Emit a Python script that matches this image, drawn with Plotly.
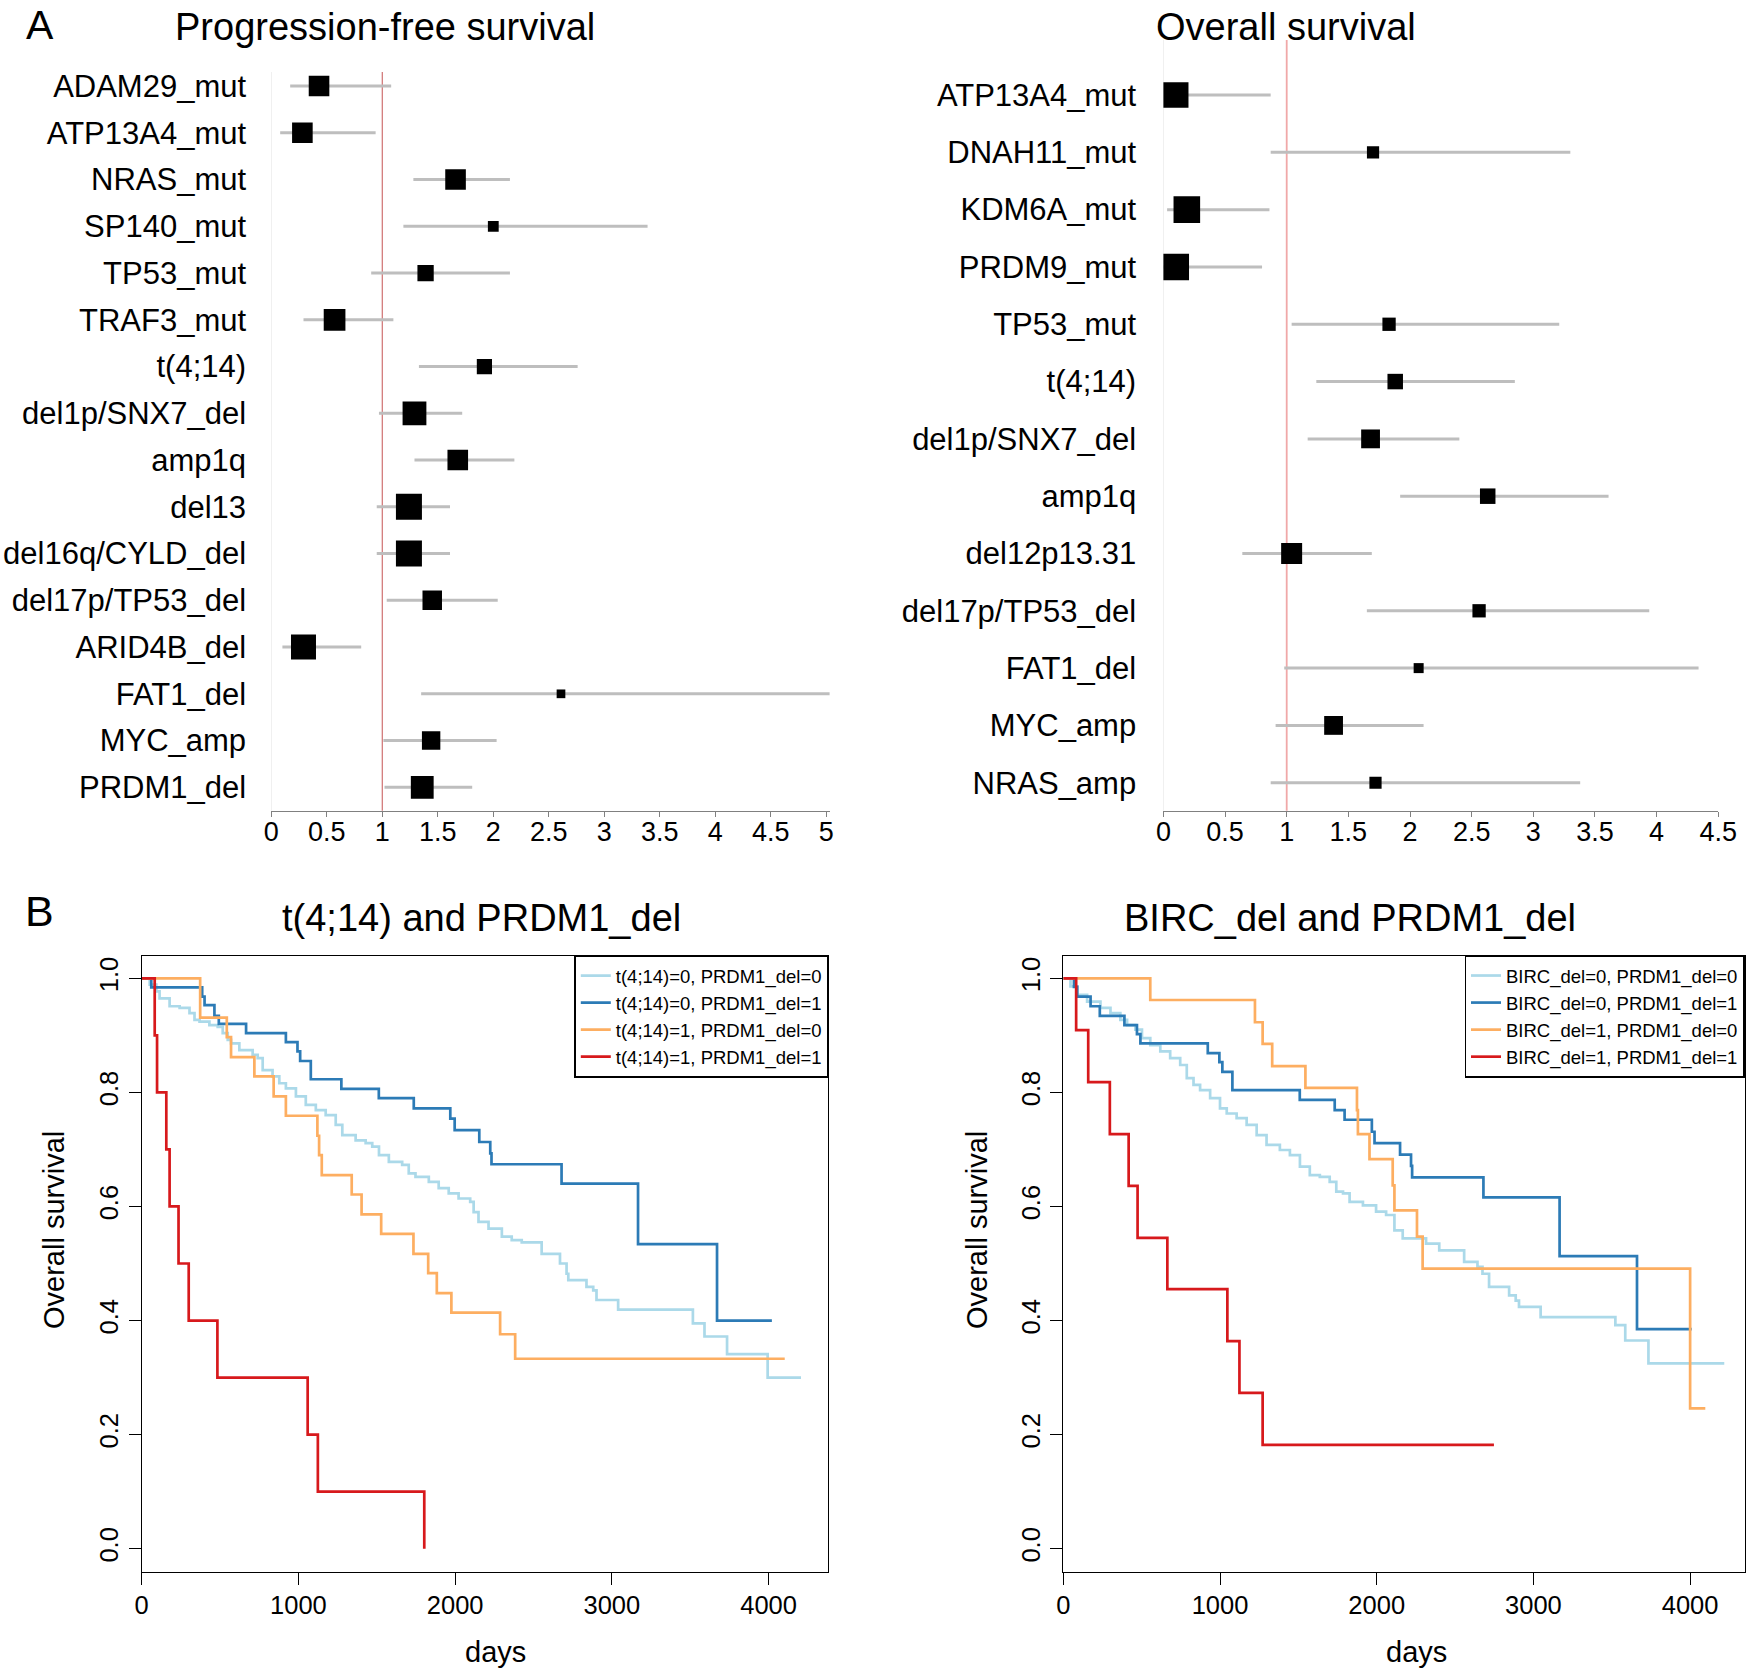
import plotly.graph_objects as go

W, H = 1750, 1669
FONT = "Liberation Sans, Arial, Helvetica, sans-serif"

# ---------------- Panel A data (hazard ratios) ----------------
pfs_labels = ["ADAM29_mut", "ATP13A4_mut", "NRAS_mut", "SP140_mut", "TP53_mut", "TRAF3_mut",
              "t(4;14)", "del1p/SNX7_del", "amp1q", "del13", "del16q/CYLD_del",
              "del17p/TP53_del", "ARID4B_del", "FAT1_del", "MYC_amp", "PRDM1_del"]
pfs_hr = [0.43, 0.28, 1.66, 2.00, 1.39, 0.57, 1.92, 1.29, 1.68, 1.24, 1.24, 1.45, 0.29, 2.61, 1.44, 1.36]
pfs_lo = [0.17, 0.08, 1.28, 1.19, 0.90, 0.29, 1.33, 0.97, 1.29, 0.95, 0.95, 1.04, 0.10, 1.35, 1.01, 1.02]
pfs_hi = [1.08, 0.94, 2.15, 3.39, 2.15, 1.10, 2.76, 1.72, 2.19, 1.61, 1.61, 2.04, 0.81, 5.04, 2.03, 1.81]
pfs_weight = [20.6, 20.6, 20.6, 10.8, 16.3, 21.7, 15.2, 23.8, 20.6, 26, 26, 19.5, 25, 8.7, 18.4, 22.8]

os_labels = ["ATP13A4_mut", "DNAH11_mut", "KDM6A_mut", "PRDM9_mut", "TP53_mut", "t(4;14)",
             "del1p/SNX7_del", "amp1q", "del12p13.31", "del17p/TP53_del", "FAT1_del",
             "MYC_amp", "NRAS_amp"]
os_hr = [0.10, 1.70, 0.19, 0.10, 1.83, 1.88, 1.68, 2.63, 1.04, 2.56, 2.07, 1.38, 1.72]
os_lo = [0.01, 0.87, 0.03, 0.00, 1.04, 1.24, 1.17, 1.92, 0.64, 1.65, 0.98, 0.91, 0.87]
os_hi = [0.87, 3.30, 0.86, 0.80, 3.21, 2.85, 2.40, 3.61, 1.69, 3.94, 4.34, 2.11, 3.38]
os_weight = [25.5, 12.2, 26.6, 26.6, 13.3, 15.5, 18.8, 15.5, 21, 13.3, 10, 18.8, 12.2]

pfs_ticks = [0, 0.5, 1, 1.5, 2, 2.5, 3, 3.5, 4, 4.5, 5]
os_ticks = [0, 0.5, 1, 1.5, 2, 2.5, 3, 3.5, 4, 4.5]

# ---------------- Panel B data (Kaplan-Meier) ----------------
km1_names = ["t(4;14)=0, PRDM1_del=0", "t(4;14)=0, PRDM1_del=1",
             "t(4;14)=1, PRDM1_del=0", "t(4;14)=1, PRDM1_del=1"]
km1_t00 = [0, 51, 93, 114, 178, 242, 305, 337, 369, 432, 485, 517, 549, 570, 623, 708, 740, 772, 835,
           878, 920, 984, 1047, 1111, 1174, 1238, 1280, 1365, 1429, 1471, 1514, 1577, 1662, 1704, 1747,
           1832, 1895, 1959, 2022, 2096, 2118, 2149, 2213, 2298, 2361, 2425, 2552, 2669, 2711, 2722,
           2838, 2881, 2902, 3040, 3517, 3591, 3735, 3994, 4207]
km1_s00 = [1.0, 0.989, 0.977, 0.965, 0.951, 0.948, 0.939, 0.927, 0.924, 0.918, 0.915, 0.904, 0.892,
           0.886, 0.874, 0.866, 0.860, 0.839, 0.828, 0.816, 0.807, 0.793, 0.778, 0.769, 0.760, 0.743,
           0.725, 0.716, 0.711, 0.705, 0.690, 0.678, 0.673, 0.658, 0.652, 0.643, 0.632, 0.623, 0.614,
           0.608, 0.590, 0.573, 0.561, 0.547, 0.541, 0.537, 0.517, 0.500, 0.482, 0.471, 0.459, 0.453,
           0.436, 0.419, 0.395, 0.372, 0.341, 0.300, 0.300]
km1_t01 = [0, 61, 386, 401, 464, 492, 666, 920, 994, 1011, 1079, 1274, 1513, 1736, 1969, 1997, 2154,
           2224, 2232, 2679, 3167, 3671, 4021]
km1_s01 = [1.0, 0.984, 0.968, 0.953, 0.934, 0.920, 0.904, 0.888, 0.872, 0.855, 0.823, 0.806, 0.790,
           0.772, 0.754, 0.734, 0.713, 0.693, 0.674, 0.640, 0.534, 0.400, 0.400]
km1_t10 = [0, 373, 543, 570, 719, 842, 920, 1121, 1132, 1149, 1340, 1403, 1528, 1734, 1828, 1883,
           1976, 2287, 2383, 4103]
km1_s10 = [1.0, 0.931, 0.897, 0.862, 0.828, 0.793, 0.759, 0.724, 0.690, 0.655, 0.621, 0.586, 0.552,
           0.517, 0.483, 0.448, 0.414, 0.376, 0.333, 0.333]
km1_t11 = [0, 83, 98, 157, 178, 235, 300, 483, 1059, 1124, 1803]
km1_s11 = [1.0, 0.9, 0.8, 0.7, 0.6, 0.5, 0.4, 0.3, 0.2, 0.1, 0.0]

km2_names = ["BIRC_del=0, PRDM1_del=0", "BIRC_del=0, PRDM1_del=1",
             "BIRC_del=1, PRDM1_del=0", "BIRC_del=1, PRDM1_del=1"]
km2_t00 = [0, 46, 89, 152, 237, 301, 364, 407, 460, 502, 555, 619, 682, 746, 788, 831, 873, 937, 1000,
           1043, 1106, 1170, 1234, 1297, 1382, 1446, 1510, 1573, 1637, 1700, 1742, 1785, 1827, 1912,
           1996, 2060, 2113, 2166, 2315, 2399, 2558, 2643, 2675, 2717, 2845, 2887, 2908, 3046, 3523,
           3586, 3734, 4218]
km2_s00 = [1.0, 0.986, 0.971, 0.959, 0.948, 0.939, 0.927, 0.918, 0.910, 0.895, 0.883, 0.872, 0.860,
           0.848, 0.825, 0.813, 0.804, 0.790, 0.772, 0.763, 0.755, 0.743, 0.725, 0.708, 0.699, 0.690,
           0.670, 0.655, 0.652, 0.643, 0.626, 0.623, 0.608, 0.602, 0.591, 0.585, 0.558, 0.544, 0.535,
           0.523, 0.503, 0.494, 0.482, 0.459, 0.444, 0.435, 0.424, 0.406, 0.392, 0.365, 0.325, 0.325]
km2_t01 = [0, 68, 89, 174, 233, 390, 470, 492, 922, 996, 1015, 1079, 1509, 1732, 1795, 1969, 1986,
           2149, 2219, 2226, 2681, 3167, 3661, 4010]
km2_s01 = [1.0, 0.985, 0.968, 0.951, 0.934, 0.918, 0.902, 0.886, 0.869, 0.853, 0.836, 0.804, 0.787,
           0.769, 0.752, 0.731, 0.711, 0.691, 0.671, 0.651, 0.616, 0.513, 0.385, 0.385]
km2_t10 = [0, 555, 1223, 1272, 1333, 1545, 1874, 1880, 1954, 2102, 2113, 2257, 2293, 4000, 4097]
km2_s10 = [1.0, 0.962, 0.923, 0.885, 0.846, 0.808, 0.769, 0.727, 0.683, 0.637, 0.593, 0.547, 0.491,
           0.246, 0.246]
km2_t11 = [0, 82, 159, 297, 417, 474, 664, 1047, 1124, 1272, 2748]
km2_s11 = [1.0, 0.909, 0.818, 0.727, 0.636, 0.545, 0.455, 0.364, 0.273, 0.182, 0.182]

km_ticks_x = [0, 1000, 2000, 3000, 4000]
km_ticks_y = [0.0, 0.2, 0.4, 0.6, 0.8, 1.0]

KM_COLORS = ["#abd9e9", "#2c7bb6", "#fdae61", "#d7191c"]


def pyp(y):
    return 1 - y / H


def pxp(x):
    return x / W


fig = go.Figure()


# ---------------- Forest plots ----------------
def forest(labels, hr, lo, hi, wt, xa, ya):
    n = len(labels)
    pos = [n - i for i in range(n)]
    cx, cy = [], []
    for l, h, p in zip(lo, hi, pos):
        cx += [l, h, None]
        cy += [p, p, None]
    fig.add_trace(go.Scatter(x=cx, y=cy, mode="lines", line=dict(color="#bebebe", width=3),
                             xaxis=xa, yaxis=ya, showlegend=False, hoverinfo="skip"))
    fig.add_trace(go.Scatter(x=hr, y=pos, mode="markers",
                             marker=dict(symbol="square", color="black", size=wt, opacity=1,
                                         line=dict(width=0)),
                             xaxis=xa, yaxis=ya, showlegend=False))
    return pos


pfs_pos = forest(pfs_labels, pfs_hr, pfs_lo, pfs_hi, pfs_weight, "x", "y")
os_pos = forest(os_labels, os_hr, os_lo, os_hi, os_weight, "x2", "y2")

# ---------------- KM curves ----------------
km1 = [(km1_t00, km1_s00), (km1_t01, km1_s01), (km1_t10, km1_s10), (km1_t11, km1_s11)]
km2 = [(km2_t00, km2_s00), (km2_t01, km2_s01), (km2_t10, km2_s10), (km2_t11, km2_s11)]
for (t, s), name, col in zip(km1, km1_names, KM_COLORS):
    fig.add_trace(go.Scatter(x=t, y=s, mode="lines", line=dict(color=col, width=2.7, shape="hv"),
                             name=name, xaxis="x3", yaxis="y3", legend="legend"))
for (t, s), name, col in zip(km2, km2_names, KM_COLORS):
    fig.add_trace(go.Scatter(x=t, y=s, mode="lines", line=dict(color=col, width=2.7, shape="hv"),
                             name=name, xaxis="x4", yaxis="y4", legend="legend2"))

# ---------------- reference lines ----------------
shapes = []
for xa, ya in [("x", "y"), ("x2", "y2")]:
    shapes.append(dict(type="line", xref=xa, yref=ya + " domain", x0=0, x1=0, y0=0, y1=1,
                       line=dict(color="#e4e4e4", width=1), layer="below"))
shapes.append(dict(type="line", xref="x", yref="y domain", x0=1, x1=1, y0=0, y1=1,
                   line=dict(color="#cf7070", width=1.2), layer="below"))
shapes.append(dict(type="line", xref="x2", yref="y2 domain", x0=1, x1=1, y0=0, y1=1,
                   line=dict(color="#f0a8a8", width=1.8), layer="below"))


def tick_fmt(v):
    return "%g" % v


forest_x_common = dict(showline=True, linecolor="#808080", linewidth=1.2, ticks="outside", ticklen=5,
                       tickwidth=1.2, tickcolor="#808080", showgrid=False, zeroline=False,
                       automargin=False, ticklabelstandoff=-8,
                       tickfont=dict(size=27, color="black", family=FONT))
forest_y_common = dict(showline=False, showgrid=False, zeroline=False, ticks="outside",
                       automargin=False, tickcolor="rgba(0,0,0,0)",
                       tickfont=dict(size=31, color="black", family=FONT))

km_x_common = dict(showline=True, mirror=True, linecolor="black", linewidth=1.4, ticks="outside",
                   ticklen=12, tickwidth=1.3, tickcolor="black", showgrid=False, zeroline=False,
                   automargin=False, tickvals=km_ticks_x, ticktext=[str(v) for v in km_ticks_x],
                   tickfont=dict(size=25.5, color="black", family=FONT), ticklabelstandoff=-1)
km_y_common = dict(showline=True, mirror=True, linecolor="black", linewidth=1.4, ticks="outside",
                   ticklen=12, tickwidth=1.3, tickcolor="black", showgrid=False, zeroline=False,
                   automargin=False, range=[-0.04, 1.04], tickvals=km_ticks_y,
                   ticktext=["%.1f" % v for v in km_ticks_y], tickangle=-90,
                   tickfont=dict(size=25.5, color="black", family=FONT), ticklabelstandoff=0)

legend_common = dict(bgcolor="white", bordercolor="black", borderwidth=1.5,
                     font=dict(size=18.5, color="black", family=FONT), xanchor="right", yanchor="top",
                     tracegroupgap=0, itemclick=False, itemdoubleclick=False)


def ann(text, x, y, size, angle=0, yanchor="middle"):
    return dict(text=text, x=pxp(x), y=pyp(y), xref="paper", yref="paper", showarrow=False,
                xanchor="center", yanchor=yanchor, textangle=angle,
                font=dict(size=size, family=FONT, color="black"))


annotations = [
    ann("A", 40, 0, 41, yanchor="top"),
    ann("B", 39, 911, 43),
    ann("Progression-free survival", 385, 27, 38),
    ann("Overall survival", 1286, 27, 38),
    ann("t(4;14) and PRDM1_del", 482, 918, 38),
    ann("BIRC_del and PRDM1_del", 1350, 918, 38),
    ann("days", 495, 1652, 29),
    ann("days", 1416, 1652, 29),
    ann("Overall survival", 54, 1230, 29, -90),
    ann("Overall survival", 977, 1230, 29, -90),
]

fig.update_layout(
    width=W, height=H, autosize=False,
    margin=dict(l=0, r=0, t=0, b=0, autoexpand=False),
    paper_bgcolor="white", plot_bgcolor="white",
    font=dict(family=FONT, color="black"),
    showlegend=True,
    xaxis=dict(domain=[pxp(271.3), pxp(829.6)], range=[0, 5.03], anchor="y",
               tickvals=pfs_ticks, ticktext=[tick_fmt(v) for v in pfs_ticks], **forest_x_common),
    yaxis=dict(domain=[pyp(810.7), pyp(72)], range=[0.5, 16.3], anchor="x",
               tickvals=pfs_pos, ticktext=pfs_labels, ticklen=18, **forest_y_common),
    xaxis2=dict(domain=[pxp(1163.4), pxp(1718.3)], range=[0, 4.5], anchor="y2",
                tickvals=os_ticks, ticktext=[tick_fmt(v) for v in os_ticks], **forest_x_common),
    yaxis2=dict(domain=[pyp(810.7), pyp(40)], range=[0.512, 13.96], anchor="x2",
                tickvals=os_pos, ticktext=os_labels, ticklen=20, **forest_y_common),
    xaxis3=dict(domain=[pxp(141.7), pxp(828.3)], range=[0, 4381], anchor="y3", **km_x_common),
    yaxis3=dict(domain=[pyp(1571.5), pyp(955.5)], anchor="x3", **km_y_common),
    xaxis4=dict(domain=[pxp(1063.3), pxp(1744.5)], range=[0, 4347], anchor="y4", **km_x_common),
    yaxis4=dict(domain=[pyp(1571.5), pyp(955.5)], anchor="x4", **km_y_common),
    legend=dict(x=pxp(828.3), y=pyp(955.5), **legend_common),
    legend2=dict(x=pxp(1744.5), y=pyp(955.5), **legend_common),
    shapes=shapes,
    annotations=annotations,
)

fig.write_html("out.html", config={"displayModeBar": False},
               post_script="document.body.style.margin='0px';")
